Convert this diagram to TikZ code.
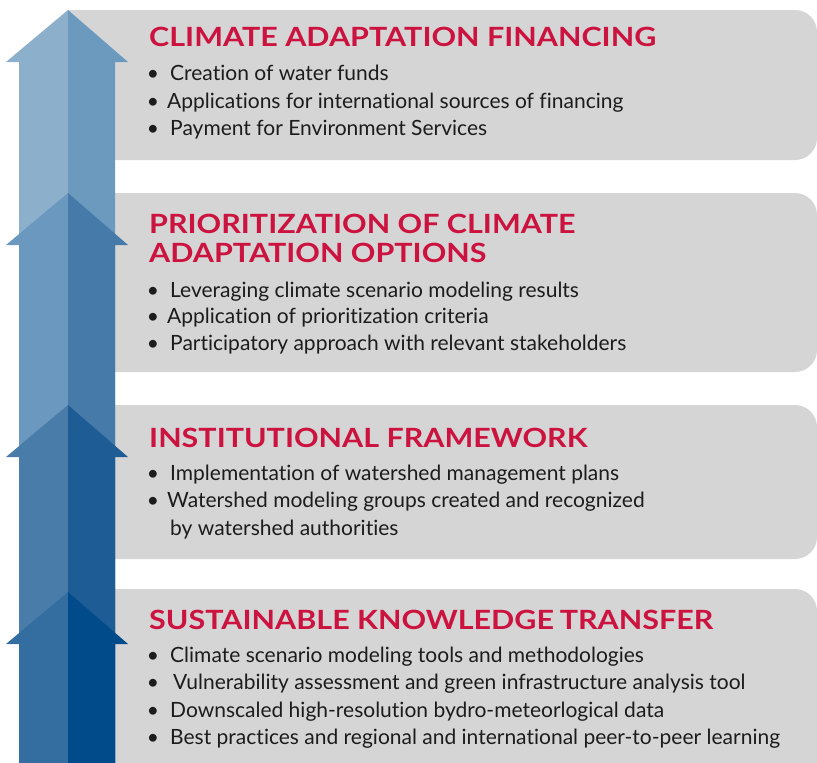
\documentclass[tikz,border=0pt]{standalone}
\usepackage{fontspec}
\setmainfont{Lato}
\newfontfamily\headfont[FakeStretch=1.15]{Lato}
\newfontfamily\bodyfont[Ligatures={NoCommon}]{Lato}
\definecolor{panelgrey}{RGB}{213,213,213}
\definecolor{headred}{RGB}{204,18,62}
\definecolor{bodyink}{RGB}{28,28,28}
\definecolor{aOneL}{RGB}{140,176,204}
\definecolor{aOneR}{RGB}{108,154,191}
\definecolor{aTwoL}{RGB}{106,152,190}
\definecolor{aTwoR}{RGB}{70,122,168}
\definecolor{aThreeL}{RGB}{74,124,170}
\definecolor{aThreeR}{RGB}{30,92,150}
\definecolor{aFourL}{RGB}{52,110,160}
\definecolor{aFourR}{RGB}{2,75,138}
\tikzset{
  panel/.style={fill=panelgrey},
  heading/.style={anchor=base west, inner sep=0pt, text=headred,
    font=\headfont\bfseries\fontsize{26.5}{29}\selectfont},
  itemtext/.style={anchor=base west, inner sep=0pt, text=bodyink,
    font=\bodyfont\fontsize{21}{27}\selectfont},
  dot/.style={anchor=base, inner sep=0pt, text=bodyink,
    font=\bodyfont\fontsize{21}{27}\selectfont},
}
% one upward arrow: apex at y=#1, two tones
\newcommand{\uparrowpair}[3]{%
  \fill[#2] (68,#1) -- (6,#1+52) -- (19,#1+52) -- (19,763) -- (68,763) -- cycle;
  \fill[#3] (68,#1) -- (128,#1+52) -- (115,#1+52) -- (115,763) -- (68,763) -- cycle;
}
% grey panel with rounded right-hand corners
\newcommand{\greypanel}[2]{%
  \fill[panel, rounded corners=22pt] (68,#1) rectangle (817,#2);
  \fill[panel] (68,#1) rectangle (400,#2);
}
\begin{document}
\begin{tikzpicture}[x=1pt,y=-1pt]
\useasboundingbox (0,0) rectangle (817,763);
\begin{scope}
\clip (0,0) rectangle (817,763);
% panels
\greypanel{10}{160}
\greypanel{193}{372}
\greypanel{405}{559}
\fill[panel, rounded corners=22pt] (68,589) rectangle (817,800);
\fill[panel] (68,589) rectangle (400,800);
\fill[panel] (400,700) rectangle (817,800);
% stacked arrows, top to bottom
\uparrowpair{10}{aOneL}{aOneR}
\uparrowpair{193}{aTwoL}{aTwoR}
\uparrowpair{405}{aThreeL}{aThreeR}
\uparrowpair{592}{aFourL}{aFourR}
\end{scope}

% panel 1
\node[heading] (h1) at (149,46) {CLIMATE ADAPTATION FINANCING};
\node[dot] (d11) at (153,80) {•};
\node[itemtext] (t11) at (170,80) {Creation of water funds};
\node[dot] (d12) at (153,108) {•};
\node[itemtext] (t12) at (167,108) {Applications for international sources of financing};
\node[dot] (d13) at (153,135) {•};
\node[itemtext] (t13) at (170,135) {Payment for Environment Services};

% panel 2
\node[heading] (h2a) at (149,233) {PRIORITIZATION OF CLIMATE};
\node[heading] (h2b) at (149,262) {ADAPTATION OPTIONS};
\node[dot] (d21) at (153,297) {•};
\node[itemtext] (t21) at (170,297) {Leveraging climate scenario modeling results};
\node[dot] (d22) at (153,323) {•};
\node[itemtext] (t22) at (167,323) {Application of prioritization criteria};
\node[dot] (d23) at (153,350) {•};
\node[itemtext] (t23) at (170,350) {Participatory approach with relevant stakeholders};

% panel 3
\node[heading] (h3) at (149,447) {INSTITUTIONAL FRAMEWORK};
\node[dot] (d31) at (153,480) {•};
\node[itemtext] (t31) at (170,480) {Implementation of watershed management plans};
\node[dot] (d32) at (153,507) {•};
\node[itemtext] (t32) at (167,507) {Watershed modeling groups created and recognized};
\node[itemtext] (t33) at (170,535) {by watershed authorities};

% panel 4
\node[heading] (h4) at (149,629) {SUSTAINABLE KNOWLEDGE\hspace{0.22em}TRANSFER};
\node[dot] (d41) at (153,662) {•};
\node[itemtext] (t41) at (170,662) {Climate scenario modeling tools and methodologies};
\node[dot] (d42) at (153,689) {•};
\node[itemtext] (t42) at (173,689) {Vulnerability assessment and green infrastructure analysis tool};
\node[dot] (d43) at (153,717) {•};
\node[itemtext] (t43) at (170,717) {Downscaled high-resolution bydro-meteorlogical data};
\node[dot] (d44) at (153,744) {•};
\node[itemtext] (t44) at (170,744) {Best practices and regional and international peer-to-peer learning};
\end{tikzpicture}
\end{document}
